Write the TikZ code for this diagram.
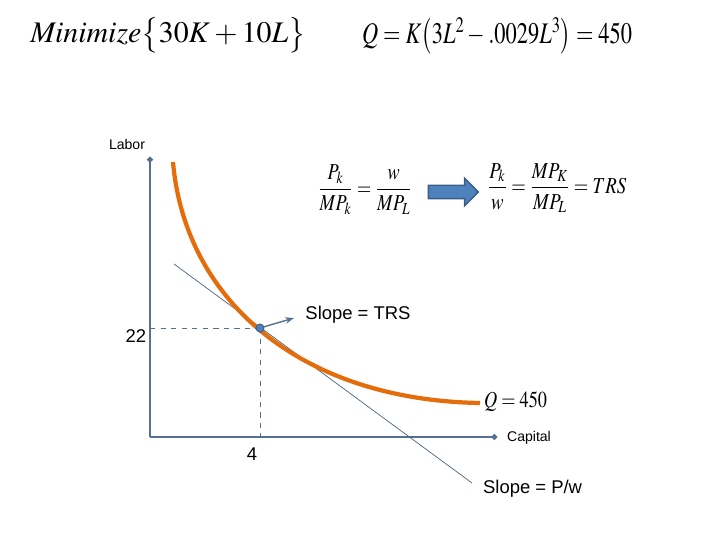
\documentclass[tikz,border=0pt]{standalone}
\usepackage{amsmath}
\usepackage{mathptmx}
\usepackage{fontspec}
\setsansfont{Liberation Sans}
\usetikzlibrary{positioning,arrows.meta,shapes.arrows}

\definecolor{axisblue}{RGB}{84,112,146}
\definecolor{isoorange}{RGB}{228,108,10}
\definecolor{dotblue}{RGB}{79,129,189}
\definecolor{dotedge}{RGB}{56,93,138}

\tikzset{
  axis/.style={line width=1.6pt,draw=axisblue,-{Circle[length=3pt]}},
  guide/.style={draw=axisblue,dashed,line width=0.5pt},
  tangent/.style={draw=axisblue!90!black,line width=0.4pt},
  iso/.style={draw=isoorange,line width=2.4pt},
  lbl/.style={font=\sffamily\fontsize{8}{9}\selectfont,inner sep=1pt},
  val/.style={font=\sffamily\fontsize{10.5}{12}\selectfont,inner sep=1pt},
  eqn/.style={font=\fontsize{13}{15}\selectfont,inner sep=1pt},
  bigeqn/.style={font=\fontsize{17}{20}\selectfont,inner sep=1pt},
  bigarrow/.style={single arrow,draw=dotedge,fill=dotblue,line width=0.8pt,
    minimum height=50*0.02cm,minimum width=26*0.02cm,
    single arrow head extend=7*0.02cm,inner xsep=0pt,inner ysep=6*0.02cm},
}

\begin{document}
\begin{tikzpicture}[x=0.02cm,y=-0.02cm,>=Latex]
  \useasboundingbox (0,0) rectangle (720,540);

  % objective and constraint
  \node[bigeqn] (obj) at (168,35) {$\mathit{Minimize}\bigl\{30K+10L\bigr\}$};
  \node[bigeqn] (prod) at (497,36) {\scalebox{0.75}[1]{$Q=K\bigl(3L^2-.0029L^3\bigr)=450$}};

  % tangency condition
  \node[eqn] (foc) at (365,190) {\scalebox{0.8}[1]{$\dfrac{P_k}{MP_k}=\dfrac{w}{MP_L}$}};
  \node[bigarrow] (arr) at (450,192) {};
  \node[eqn] (trs) at (557,188) {\scalebox{0.82}[1]{$\dfrac{P_k}{w}=\dfrac{MP_K}{MP_L}=TRS$}};

  % axes
  \coordinate (O) at (150,437);
  \coordinate (ytop) at (150,157);
  \coordinate (xend) at (497,437);
  \draw[axis] (O) -- (ytop);
  \draw[axis] (O) -- (xend);
  \node[lbl] (labor) at (127,144) {Labor};
  \node[lbl,anchor=west] (capital) at (505,438) {Capital};

  % isocost line
  \coordinate (t1) at (174,264);
  \coordinate (t2) at (472,483);
  \draw[tangent] (t1) -- (t2);
  \node[val,anchor=west] (slopepw) at (481,489) {Slope = P/w};

  % isoquant
  \coordinate (q1) at (173,162);
  \coordinate (q2) at (480,403);
  \draw[iso] (q1) .. controls (185,300) and (300,400) .. (q2);
  \node[eqn,anchor=west] (qlbl) at (482,402) {\scalebox{0.8}[1]{$Q=450$}};

  % optimum
  \coordinate (E) at (260,328);
  \draw[guide] (E -| O) -- (E);
  \draw[guide] (E) -- (E |- O);
  \node[val] (l22) at (136,336) {22};
  \node[val] (k4) at (252,454) {4};
  \coordinate (tip) at (294,318);
  \draw[draw=axisblue,line width=0.8pt,-{Stealth[length=5pt]}] (E) -- (tip);
  \node[circle,fill=dotblue,draw=dotedge,line width=0.5pt,minimum size=8*0.02cm,inner sep=0pt] (dot) at (E) {};
  \node[val] (slopetrs) at (358,315) {Slope = TRS};
\end{tikzpicture}
\end{document}
